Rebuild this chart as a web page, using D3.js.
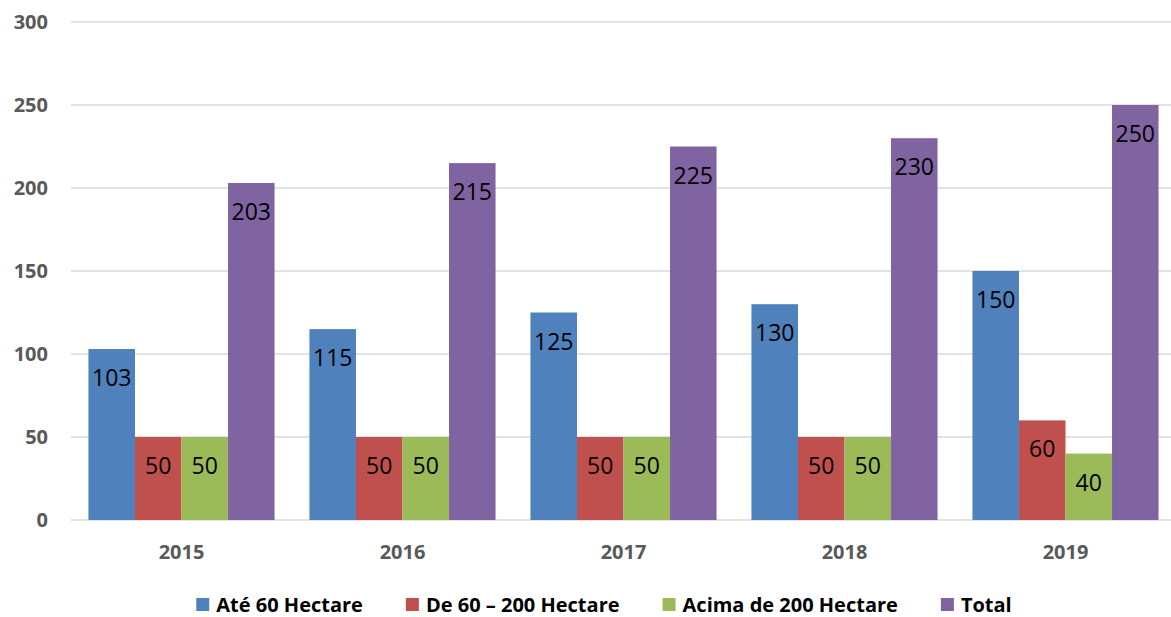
<!DOCTYPE html>
<html>
<head>
<meta charset="utf-8">
<script src="https://cdn.jsdelivr.net/npm/d3@7.9.0/dist/d3.min.js"></script>
<style>
  html, body { margin: 0; padding: 0; background: #fff; }
  svg { display: block; font-family: "Open Sans", "Liberation Sans", sans-serif; }
</style>
</head>
<body>
<svg id="chart" width="1171" height="617"></svg>
<script>
const years = ['2015', '2016', '2017', '2018', '2019'];
const seriesNames = ['Até 60 Hectare', 'De 60 – 200 Hectare', 'Acima de 200 Hectare', 'Total'];
const seriesColors = ['#4F81BD', '#C0504D', '#9BBB59', '#8064A2'];
const ate60 = [103, 115, 125, 130, 150];
const de60a200 = [50, 50, 50, 50, 60];
const acima200 = [50, 50, 50, 50, 40];
const total = [203, 215, 225, 230, 250];
const yTicks = [0, 50, 100, 150, 200, 250, 300];

const seriesValues = [ate60, de60a200, acima200, total];

const width = 1171, height = 617;
const margin = { left: 71, right: -5, top: 22, bottom: 97 };

const svg = d3.select('#chart');

const x0 = d3.scaleBand()
  .domain(years)
  .range([margin.left, width - margin.right])
  .paddingInner(0)
  .paddingOuter(0);

// Excel-style gap width 75% -> group takes 4 / 4.75 of the band
const groupW = x0.bandwidth() * 4 / 4.75;
const x1 = d3.scaleBand()
  .domain(d3.range(seriesNames.length))
  .range([0, groupW]);

const y = d3.scaleLinear()
  .domain([0, 300])
  .range([height - margin.bottom, margin.top]);

// gridlines
svg.append('g')
  .selectAll('line')
  .data(yTicks)
  .join('line')
  .attr('x1', margin.left)
  .attr('x2', width)
  .attr('y1', (d) => y(d))
  .attr('y2', (d) => y(d))
  .attr('stroke', '#d9d9d9')
  .attr('stroke-width', 1.5);

// y tick labels
svg.append('g')
  .selectAll('text')
  .data(yTicks)
  .join('text')
  .attr('x', 48)
  .attr('y', (d) => y(d))
  .attr('dy', '0.35em')
  .attr('text-anchor', 'end')
  .attr('font-size', 20)
  .attr('font-weight', 'bold')
  .attr('fill', '#595959')
  .text((d) => d);

// bars
const groups = svg.append('g')
  .selectAll('g')
  .data(years)
  .join('g')
  .attr('transform', (d) => `translate(${x0(d) + (x0.bandwidth() - groupW) / 2},0)`);

const cells = groups.selectAll('g')
  .data((yr, i) => seriesValues.map((vals, s) => ({ s, v: vals[i] })))
  .join('g');

cells.append('rect')
  .attr('x', (d) => x1(d.s))
  .attr('width', x1.bandwidth())
  .attr('y', (d) => y(d.v))
  .attr('height', (d) => y(0) - y(d.v))
  .attr('fill', (d) => seriesColors[d.s]);

cells.append('text')
  .attr('x', (d) => x1(d.s) + x1.bandwidth() / 2)
  .attr('y', (d) => y(d.v) + 29)
  .attr('dy', '0.35em')
  .attr('text-anchor', 'middle')
  .attr('font-size', 23)
  .attr('fill', '#000')
  .text((d) => d.v);

// x labels
svg.append('g')
  .selectAll('text')
  .data(years)
  .join('text')
  .attr('x', (d) => x0(d) + x0.bandwidth() / 2)
  .attr('y', 552)
  .attr('dy', '0.35em')
  .attr('text-anchor', 'middle')
  .attr('font-size', 20)
  .attr('font-weight', 'bold')
  .attr('fill', '#595959')
  .text((d) => d);

// legend
const legend = svg.append('g');
const items = legend.selectAll('g')
  .data(seriesNames)
  .join('g');

items.append('rect')
  .attr('width', 13)
  .attr('height', 13)
  .attr('y', 598)
  .attr('fill', (d, i) => seriesColors[i]);

items.append('text')
  .attr('x', 20)
  .attr('y', 604.5)
  .attr('dy', '0.35em')
  .attr('font-size', 20)
  .attr('font-weight', 'bold')
  .attr('fill', '#000')
  .text((d) => d);

let offset = 0;
const widths = [];
items.each(function () {
  const w = 20 + d3.select(this).select('text').node().getComputedTextLength();
  widths.push(w);
});
const totalW = d3.sum(widths) + 43 * (widths.length - 1);
offset = (195 + 1013) / 2 - totalW / 2;
items.attr('transform', (d, i) => {
  const t = `translate(${offset},0)`;
  offset += widths[i] + 43;
  return t;
});
</script>
</body>
</html>
